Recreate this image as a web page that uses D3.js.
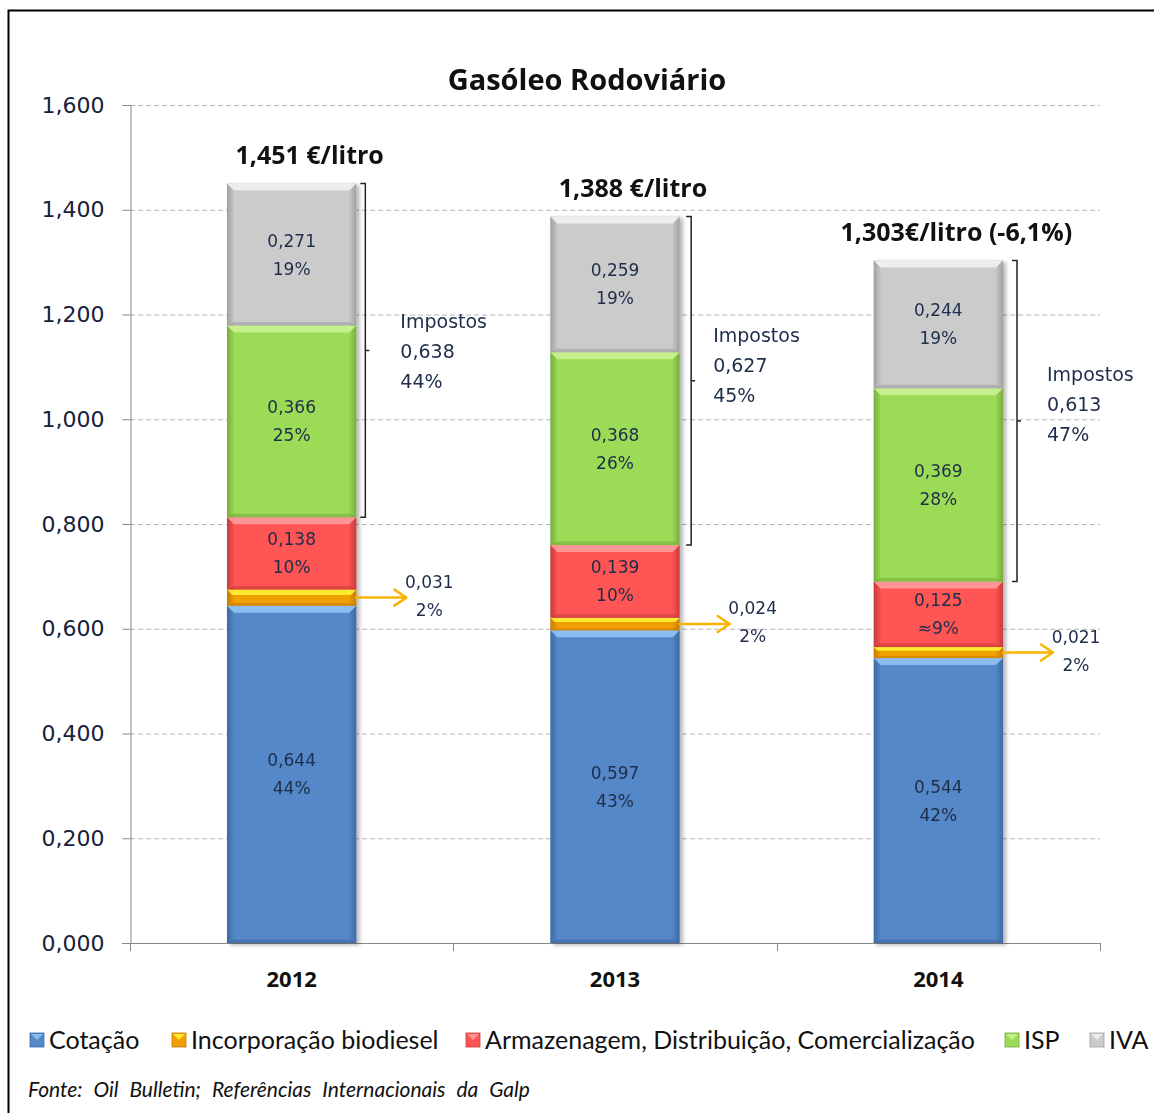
<!DOCTYPE html>
<html>
<head>
<meta charset="utf-8">
<script src="https://cdn.jsdelivr.net/npm/d3@7"></script>
<style>
  body { margin: 0; background: #fff; }
  svg { display: block; }
</style>
</head>
<body>
<div id="chart"></div>
<script>
// data
const years = ["2012", "2013", "2014"];
const seriesNames = ["Cotação", "Incorporação biodiesel", "Armazenagem, Distribuição, Comercialização", "ISP", "IVA"];
const cotacao = [0.644, 0.597, 0.544];
const biodiesel = [0.031, 0.024, 0.021];
const armazenagem = [0.138, 0.139, 0.125];
const isp = [0.366, 0.368, 0.369];
const iva = [0.271, 0.259, 0.244];
const cotacaoPct = ["44%", "43%", "42%"];
const biodieselPct = ["2%", "2%", "2%"];
const armazenagemPct = ["10%", "10%", "≈9%"];
const ispPct = ["25%", "26%", "28%"];
const ivaPct = ["19%", "19%", "19%"];
const totalLabels = ["1,451 €/litro", "1,388 €/litro", "1,303€/litro (-6,1%)"];
const impostos = [0.638, 0.627, 0.613];
const impostosPct = ["44%", "45%", "47%"];
const yTicks = [0, 0.2, 0.4, 0.6, 0.8, 1.0, 1.2, 1.4, 1.6];

const keys = ["cot", "bio", "adc", "isp", "iva"];
const values = { cot: cotacao, bio: biodiesel, adc: armazenagem, isp: isp, iva: iva };
const pcts = { cot: cotacaoPct, bio: biodieselPct, adc: armazenagemPct, isp: ispPct, iva: ivaPct };
const colors = {
    cot: { base: "#5588c8", light: "#8cbcf0", dark: "#3e69a3" },
    bio: { base: "#f0a000", light: "#ffea30", dark: "#c67c00" },
    adc: { base: "#ff5454", light: "#ff9696", dark: "#c83a3a" },
    isp: { base: "#9cdb56", light: "#c6f08e", dark: "#76ad3c" },
    iva: { base: "#cbcbcb", light: "#ededed", dark: "#a0a0a0" }
};

const table = years.map((y, i) => {
    const row = { year: y };
    keys.forEach(k => row[k] = values[k][i]);
    return row;
});

const loc = d3.formatLocale({ decimal: ",", thousands: ".", grouping: [3], currency: ["", "€"] });
const f3 = loc.format(".3f");

const width = 1154, height = 1113;
const svg = d3.select("#chart").append("svg")
    .attr("width", width)
    .attr("height", height);

const defs = svg.append("defs");
keys.forEach(k => {
    const g = defs.append("linearGradient").attr("id", "h-" + k)
        .attr("x1", "0%").attr("x2", "100%").attr("y1", "0%").attr("y2", "0%");
    g.append("stop").attr("offset", "0%").attr("stop-color", colors[k].dark);
    g.append("stop").attr("offset", "6%").attr("stop-color", colors[k].base);
    g.append("stop").attr("offset", "94%").attr("stop-color", colors[k].base);
    g.append("stop").attr("offset", "100%").attr("stop-color", colors[k].dark);
});
const shadow = defs.append("filter").attr("id", "shadow")
    .attr("x", "-10%").attr("y", "-10%").attr("width", "130%").attr("height", "120%");
shadow.append("feDropShadow").attr("dx", 3).attr("dy", 2).attr("stdDeviation", 2)
    .attr("flood-color", "#000").attr("flood-opacity", 0.3);

// outer frame
svg.append("rect")
    .attr("x", 8.5).attr("y", 10.5)
    .attr("width", 1170).attr("height", 1130)
    .attr("fill", "none").attr("stroke", "#000").attr("stroke-width", 2);

const x = d3.scaleBand()
    .domain(years)
    .range([130, 1100])
    .paddingInner(0.6)
    .paddingOuter(0.3);

const y = d3.scaleLinear()
    .domain([0, 1.6])
    .range([943, 105]);

// gridlines
svg.append("g")
    .selectAll("line")
    .data(yTicks.filter(d => d > 0))
    .join("line")
    .attr("x1", 130).attr("x2", 1100)
    .attr("y1", d => y(d) + 0.5).attr("y2", d => y(d) + 0.5)
    .attr("stroke", "#b4b4b4")
    .attr("stroke-dasharray", "5,3");

// y axis
const yAxis = svg.append("g")
    .attr("transform", "translate(130.5,0)")
    .call(d3.axisLeft(y).tickValues(yTicks).tickFormat(f3).tickSize(8).tickPadding(18));
yAxis.select(".domain").attr("stroke", "#888");
yAxis.selectAll(".tick line").attr("stroke", "#888");
yAxis.selectAll("text")
    .attr("font-family", "'DejaVu Sans', sans-serif")
    .attr("font-size", 22)
    .attr("fill", "#15223a");

// x axis: ticks at category boundaries
const boundaries = years.map(d => x(d) - x.step() * x.paddingInner() / 2).concat([1100]);
const xAxis = svg.append("g");
xAxis.append("line")
    .attr("x1", 122).attr("x2", 1100)
    .attr("y1", y(0) + 0.5).attr("y2", y(0) + 0.5)
    .attr("stroke", "#888");
xAxis.selectAll("line.bt")
    .data(boundaries)
    .join("line")
    .attr("class", "bt")
    .attr("x1", d => Math.round(d) + 0.5).attr("x2", d => Math.round(d) + 0.5)
    .attr("y1", y(0)).attr("y2", y(0) + 8)
    .attr("stroke", "#888");
xAxis.selectAll("text")
    .data(years)
    .join("text")
    .attr("x", d => x(d) + x.bandwidth() / 2)
    .attr("y", 987)
    .attr("text-anchor", "middle")
    .attr("font-family", "'Open Sans', sans-serif")
    .attr("font-weight", "bold")
    .attr("font-size", 22)
    .attr("fill", "#111")
    .text(d => d);

// stacked bars
const stacked = d3.stack().keys(keys)(table);

const bars = svg.append("g").attr("filter", "url(#shadow)");
stacked.forEach(layer => {
    const k = layer.key;
    const g = bars.append("g");
    layer.forEach(seg => {
        const x0 = x(seg.data.year), w = x.bandwidth();
        const yt = y(seg[1]), yb = y(seg[0]);
        const h = yb - yt;
        const bev = Math.min(7, h / 3);
        g.append("rect")
            .attr("x", x0).attr("y", yt)
            .attr("width", w).attr("height", h)
            .attr("fill", `url(#h-${k})`);
        // top bevel highlight
        g.append("path")
            .attr("d", `M${x0},${yt} L${x0 + w},${yt} L${x0 + w - bev},${yt + bev} L${x0 + bev},${yt + bev} Z`)
            .attr("fill", colors[k].light);
        // bottom bevel shade
        g.append("path")
            .attr("d", `M${x0},${yb} L${x0 + w},${yb} L${x0 + w - bev},${yb - bev * 0.5} L${x0 + bev},${yb - bev * 0.5} Z`)
            .attr("fill", colors[k].dark)
            .attr("opacity", 0.6);
    });
});

// labels inside segments
const labelFont = "'DejaVu Sans', sans-serif";
stacked.forEach(layer => {
    const k = layer.key;
    if (k === "bio") return;
    layer.forEach((seg, i) => {
        const cx = x(seg.data.year) + x.bandwidth() / 2;
        const cy = (y(seg[0]) + y(seg[1])) / 2;
        const t = svg.append("text")
            .attr("text-anchor", "middle")
            .attr("font-family", labelFont)
            .attr("font-size", 17)
            .attr("fill", "#1e2d4a");
        t.append("tspan").attr("x", cx).attr("y", cy - 8).text(f3(seg.data[k]));
        t.append("tspan").attr("x", cx).attr("y", cy + 20).text(pcts[k][i]);
    });
});

// totals above bars
stacked[stacked.length - 1].forEach((seg, i) => {
    svg.append("text")
        .attr("x", x(seg.data.year) + x.bandwidth() / 2 + 18)
        .attr("y", y(seg[1]) - 20)
        .attr("text-anchor", "middle")
        .attr("font-family", "'Open Sans', sans-serif")
        .attr("font-weight", "bold")
        .attr("font-size", 25)
        .attr("fill", "#111")
        .text(totalLabels[i]);
});

// tax brackets (ISP + IVA); label placement nudges per bar as in the original
const taxLabelDx = [35, 22, 30];
const taxLabelDy = [0, -17, -18];
const ispLayer = stacked[3], ivaLayer = stacked[4];
years.forEach((yr, i) => {
    const bx = x(yr) + x.bandwidth() + 9 + i * 2.5;
    const top = y(ivaLayer[i][1]), bot = y(ispLayer[i][0]);
    const mid = (top + bot) / 2;
    svg.append("path")
        .attr("d", `M${bx - 5},${top} L${bx},${top} L${bx},${bot} L${bx - 5},${bot} M${bx},${mid} L${bx + 4},${mid}`)
        .attr("fill", "none")
        .attr("stroke", "#222")
        .attr("stroke-width", 1.5);
    const t = svg.append("text")
        .attr("font-family", labelFont)
        .attr("font-size", 19)
        .attr("fill", "#1e2d4a");
    const tx = bx + taxLabelDx[i];
    const ty = mid + taxLabelDy[i];
    t.append("tspan").attr("x", tx).attr("y", ty - 22).text("Impostos");
    t.append("tspan").attr("x", tx).attr("y", ty + 8).text(f3(impostos[i]));
    t.append("tspan").attr("x", tx).attr("y", ty + 38).text(impostosPct[i]);
});

// biodiesel arrows
const bioLayer = stacked[1];
bioLayer.forEach((seg, i) => {
    const x0 = x(seg.data.year) + x.bandwidth();
    const cy = (y(seg[0]) + y(seg[1])) / 2;
    const x1 = x0 + 50;
    svg.append("path")
        .attr("d", `M${x0},${cy} L${x1},${cy} M${x1 - 12},${cy - 8} L${x1},${cy} L${x1 - 12},${cy + 8}`)
        .attr("fill", "none")
        .attr("stroke", "#f7b500")
        .attr("stroke-width", 2.5)
        .attr("stroke-linecap", "round")
        .attr("stroke-linejoin", "round");
    const t = svg.append("text")
        .attr("text-anchor", "middle")
        .attr("font-family", labelFont)
        .attr("font-size", 17)
        .attr("fill", "#1e2d4a");
    t.append("tspan").attr("x", x1 + 23).attr("y", cy - 10).text(f3(seg.data.bio));
    t.append("tspan").attr("x", x1 + 23).attr("y", cy + 18).text(biodieselPct[i]);
});

// title
svg.append("text")
    .attr("x", 587).attr("y", 90)
    .attr("text-anchor", "middle")
    .attr("font-family", "'Open Sans', sans-serif")
    .attr("font-weight", "bold")
    .attr("font-size", 29)
    .attr("fill", "#111")
    .text("Gasóleo Rodoviário");

// legend
const legendX = [30, 172, 466, 1005, 1090];
const legend = svg.append("g");
keys.forEach((k, i) => {
    const lg = legend.append("g").attr("transform", `translate(${legendX[i]},1033)`);
    lg.append("rect").attr("width", 14).attr("height", 14)
        .attr("fill", colors[k].base).attr("stroke", colors[k].dark).attr("stroke-width", 0.8);
    lg.append("path").attr("d", "M1,1 L13,1 L7,7 Z").attr("fill", colors[k].light);
    lg.append("text")
        .attr("x", 19).attr("y", 16)
        .attr("font-family", "'Lato', sans-serif")
        .attr("font-size", 25)
        .attr("fill", "#111")
        .text(seriesNames[i]);
});

svg.append("text")
    .attr("x", 28).attr("y", 1097)
    .attr("font-family", "'Lato', sans-serif")
    .attr("font-style", "italic")
    .attr("font-size", 21)
    .attr("word-spacing", 6)
    .attr("fill", "#111")
    .text("Fonte: Oil Bulletin; Referências Internacionais da Galp");
</script>
</body>
</html>
